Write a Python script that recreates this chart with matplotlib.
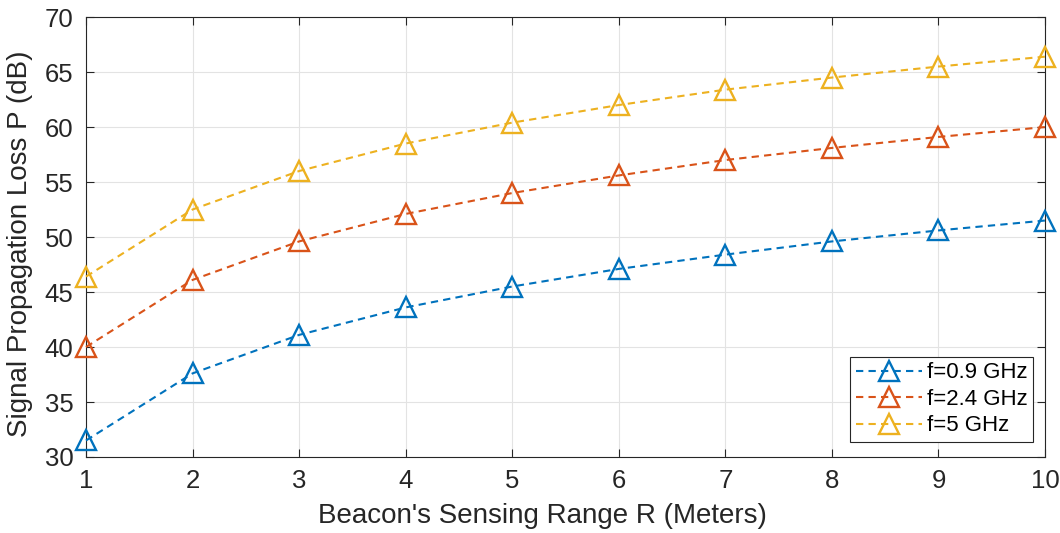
import matplotlib
matplotlib.use("Agg")
import matplotlib.pyplot as plt

plt.rcParams['font.family'] = ['Liberation Sans', 'DejaVu Sans']

R = [1, 2, 3, 4, 5, 6, 7, 8, 9, 10]
loss_09 = [31.5, 37.6, 41.1, 43.6, 45.5, 47.1, 48.4, 49.6, 50.6, 51.5]
loss_24 = [40.0, 46.1, 49.6, 52.1, 54.0, 55.6, 57.0, 58.1, 59.1, 60.0]
loss_5 = [46.4, 52.5, 56.0, 58.5, 60.4, 62.0, 63.4, 64.5, 65.5, 66.4]
labels = ['f=0.9 GHz', 'f=2.4 GHz', 'f=5 GHz']
colors = ['#0072BD', '#D95319', '#EDB120']

fig = plt.figure(figsize=(10.6, 5.33), dpi=100)
ax = fig.add_axes([0.0811, 0.1426, 0.9048, 0.8254])

for y, lab, c in zip([loss_09, loss_24, loss_5], labels, colors):
    ax.plot(R, y, linestyle='--', dashes=(3.5, 2.5), color=c, lw=1.5, marker='^',
            markersize=14, markerfacecolor='none', markeredgewidth=1.7, label=lab,
            clip_on=False, zorder=3)

ax.set_xlim(1, 10)
ax.set_ylim(30, 70)
ax.set_xticks(R)
ax.set_yticks(range(30, 71, 5))
ax.grid(True, color='#e3e3e3', lw=0.8)
ax.set_axisbelow(True)
ax.tick_params(direction='in', length=6, width=0.8, labelsize=18.5, colors='#262626',
               top=True, right=True, pad=9)
for s in ax.spines.values():
    s.set_color('#262626')
    s.set_linewidth(0.8)
ax.set_xlabel("Beacon's Sensing Range R (Meters)", fontsize=20, color='#262626', labelpad=4)
ax.set_ylabel("Signal Propagation Loss P (dB)", fontsize=20, color='#262626', labelpad=6)
ax.xaxis.set_label_coords(0.476, -0.105)
ax.yaxis.set_label_coords(-0.055, 0.485)

leg = ax.legend(loc='lower right', bbox_to_anchor=(0.9875, 0.034), fontsize=16,
                fancybox=False, framealpha=1, edgecolor='#262626', borderpad=0.25,
                handlelength=3.0, handletextpad=0.2, labelspacing=0.25, borderaxespad=0)
leg.get_frame().set_linewidth(0.8)

fig.savefig('out.png', dpi=100)
